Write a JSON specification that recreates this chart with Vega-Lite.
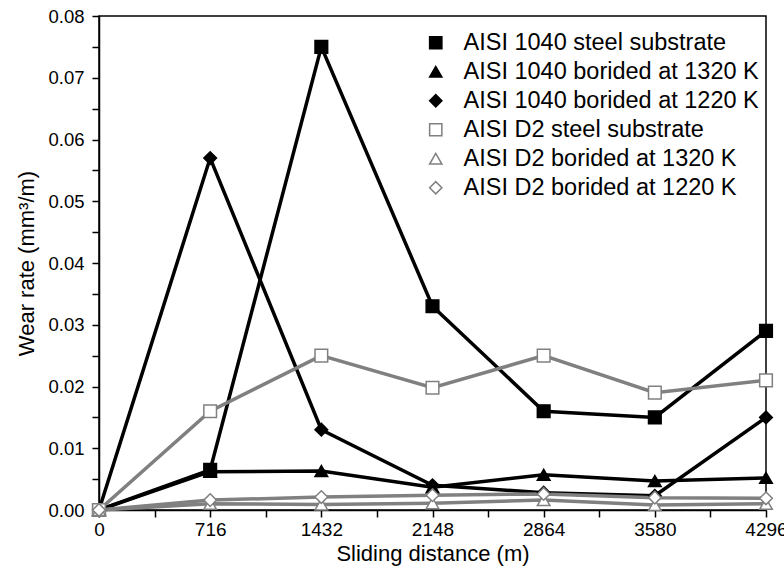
{
  "$schema": "https://vega.github.io/schema/vega-lite/v6.json",
  "width": 667,
  "height": 494,
  "autosize": {"type": "none"},
  "padding": {"left": 99, "top": 16, "right": 18, "bottom": 70},
  "background": "white",
  "config": {
    "font": "Liberation Sans",
    "view": {"stroke": "black", "strokeWidth": 1.5},
    "axis": {"domainColor": "black", "domainWidth": 1.5, "tickColor": "black", "tickWidth": 1.5, "grid": false, "labelColor": "black", "titleColor": "black", "titleFontWeight": "normal"}
  },
  "data": {"values": [
    {"s": "AISI 1040 steel substrate", "d": 0, "w": 0},
    {"s": "AISI 1040 steel substrate", "d": 716, "w": 0.0065},
    {"s": "AISI 1040 steel substrate", "d": 1432, "w": 0.075},
    {"s": "AISI 1040 steel substrate", "d": 2148, "w": 0.033},
    {"s": "AISI 1040 steel substrate", "d": 2864, "w": 0.016},
    {"s": "AISI 1040 steel substrate", "d": 3580, "w": 0.015},
    {"s": "AISI 1040 steel substrate", "d": 4296, "w": 0.029},
    {"s": "AISI 1040 borided at 1320 K", "d": 0, "w": 0},
    {"s": "AISI 1040 borided at 1320 K", "d": 716, "w": 0.0062},
    {"s": "AISI 1040 borided at 1320 K", "d": 1432, "w": 0.0063},
    {"s": "AISI 1040 borided at 1320 K", "d": 2148, "w": 0.0037},
    {"s": "AISI 1040 borided at 1320 K", "d": 2864, "w": 0.0057},
    {"s": "AISI 1040 borided at 1320 K", "d": 3580, "w": 0.0047},
    {"s": "AISI 1040 borided at 1320 K", "d": 4296, "w": 0.0052},
    {"s": "AISI 1040 borided at 1220 K", "d": 0, "w": 0},
    {"s": "AISI 1040 borided at 1220 K", "d": 716, "w": 0.057},
    {"s": "AISI 1040 borided at 1220 K", "d": 1432, "w": 0.013},
    {"s": "AISI 1040 borided at 1220 K", "d": 2148, "w": 0.004},
    {"s": "AISI 1040 borided at 1220 K", "d": 2864, "w": 0.0028},
    {"s": "AISI 1040 borided at 1220 K", "d": 3580, "w": 0.0023},
    {"s": "AISI 1040 borided at 1220 K", "d": 4296, "w": 0.015},
    {"s": "AISI D2 steel substrate", "d": 0, "w": 0},
    {"s": "AISI D2 steel substrate", "d": 716, "w": 0.016},
    {"s": "AISI D2 steel substrate", "d": 1432, "w": 0.025},
    {"s": "AISI D2 steel substrate", "d": 2148, "w": 0.0198},
    {"s": "AISI D2 steel substrate", "d": 2864, "w": 0.025},
    {"s": "AISI D2 steel substrate", "d": 3580, "w": 0.019},
    {"s": "AISI D2 steel substrate", "d": 4296, "w": 0.021},
    {"s": "AISI D2 borided at 1320 K", "d": 0, "w": 0},
    {"s": "AISI D2 borided at 1320 K", "d": 716, "w": 0.001},
    {"s": "AISI D2 borided at 1320 K", "d": 1432, "w": 0.0009},
    {"s": "AISI D2 borided at 1320 K", "d": 2148, "w": 0.0011},
    {"s": "AISI D2 borided at 1320 K", "d": 2864, "w": 0.0016},
    {"s": "AISI D2 borided at 1320 K", "d": 3580, "w": 0.0008},
    {"s": "AISI D2 borided at 1320 K", "d": 4296, "w": 0.001},
    {"s": "AISI D2 borided at 1220 K", "d": 0, "w": 0},
    {"s": "AISI D2 borided at 1220 K", "d": 716, "w": 0.0016},
    {"s": "AISI D2 borided at 1220 K", "d": 1432, "w": 0.0021},
    {"s": "AISI D2 borided at 1220 K", "d": 2148, "w": 0.0024},
    {"s": "AISI D2 borided at 1220 K", "d": 2864, "w": 0.0026},
    {"s": "AISI D2 borided at 1220 K", "d": 3580, "w": 0.002},
    {"s": "AISI D2 borided at 1220 K", "d": 4296, "w": 0.0019}
  ]},
  "resolve": {"axis": {"x": "independent", "y": "independent"}},
  "layer": [
    {
      "mark": {"type": "point", "opacity": 0},
      "encoding": {
        "x": {"field": "d", "type": "quantitative", "scale": {"domain": [0, 4296], "nice": false, "zero": false},
          "axis": {"orient": "bottom", "values": [0, 358, 716, 1074, 1432, 1790, 2148, 2506, 2864, 3222, 3580, 3938, 4296], "labels": false, "domain": false, "title": null, "tickSize": 7}},
        "y": {"field": "w", "type": "quantitative", "scale": {"domain": [0, 0.08], "nice": false},
          "axis": {"orient": "left", "values": [0, 0.005, 0.01, 0.015, 0.02, 0.025, 0.03, 0.035, 0.04, 0.045, 0.05, 0.055, 0.06, 0.065, 0.07, 0.075, 0.08], "labels": false, "domain": false, "title": null, "tickSize": 7}}
      }
    },
    {
      "encoding": {
        "x": {"field": "d", "type": "quantitative",
          "axis": {"orient": "bottom", "values": [0, 716, 1432, 2148, 2864, 3580, 4296], "format": "d", "ticks": false,
            "labelFontSize": 19, "labelPadding": 10, "title": "Sliding distance (m)", "titleFontSize": 22, "titlePadding": 4, "labelFlush": false, "labelOverlap": false}},
        "y": {"field": "w", "type": "quantitative",
          "axis": {"orient": "left", "values": [0, 0.01, 0.02, 0.03, 0.04, 0.05, 0.06, 0.07, 0.08], "format": ".2f", "ticks": false,
            "labelFontSize": 18.5, "labelPadding": 15, "title": "Wear rate (mm³/m)", "titleFontSize": 22, "titlePadding": 9, "labelOverlap": false}},
        "stroke": {"field": "s", "type": "nominal",
          "scale": {"domain": ["AISI 1040 steel substrate", "AISI 1040 borided at 1320 K", "AISI 1040 borided at 1220 K", "AISI D2 steel substrate", "AISI D2 borided at 1320 K", "AISI D2 borided at 1220 K"],
            "range": ["#000000", "#000000", "#000000", "#808080", "#808080", "#808080"]},
          "legend": {
            "orient": "none", "legendX": 300, "legendY": 15, "title": null,
            "labelFontSize": 23.5, "labelColor": "black", "labelLimit": 500, "symbolSize": 150, "symbolStrokeWidth": 1.5,
            "rowPadding": 4, "symbolOffset": 25, "labelOffset": 16, "padding": 0}}
      },
      "layer": [
        {
          "mark": {"type": "line", "strokeWidth": 3.5},
          "encoding": {"order": {"field": "d", "type": "quantitative"}}
        },
        {
          "mark": {"type": "point", "strokeWidth": 1.5, "opacity": 1, "size": 160},
          "encoding": {
            "fill": {"field": "s", "type": "nominal",
              "scale": {"domain": ["AISI 1040 steel substrate", "AISI 1040 borided at 1320 K", "AISI 1040 borided at 1220 K", "AISI D2 steel substrate", "AISI D2 borided at 1320 K", "AISI D2 borided at 1220 K"],
                "range": ["#000000", "#000000", "#000000", "#ffffff", "#ffffff", "#ffffff"]}},
            "shape": {"field": "s", "type": "nominal",
              "scale": {"domain": ["AISI 1040 steel substrate", "AISI 1040 borided at 1320 K", "AISI 1040 borided at 1220 K", "AISI D2 steel substrate", "AISI D2 borided at 1320 K", "AISI D2 borided at 1220 K"],
                "range": ["square", "triangle-up", "diamond", "square", "triangle-up", "diamond"]}}
          }
        }
      ]
    }
  ]
}
